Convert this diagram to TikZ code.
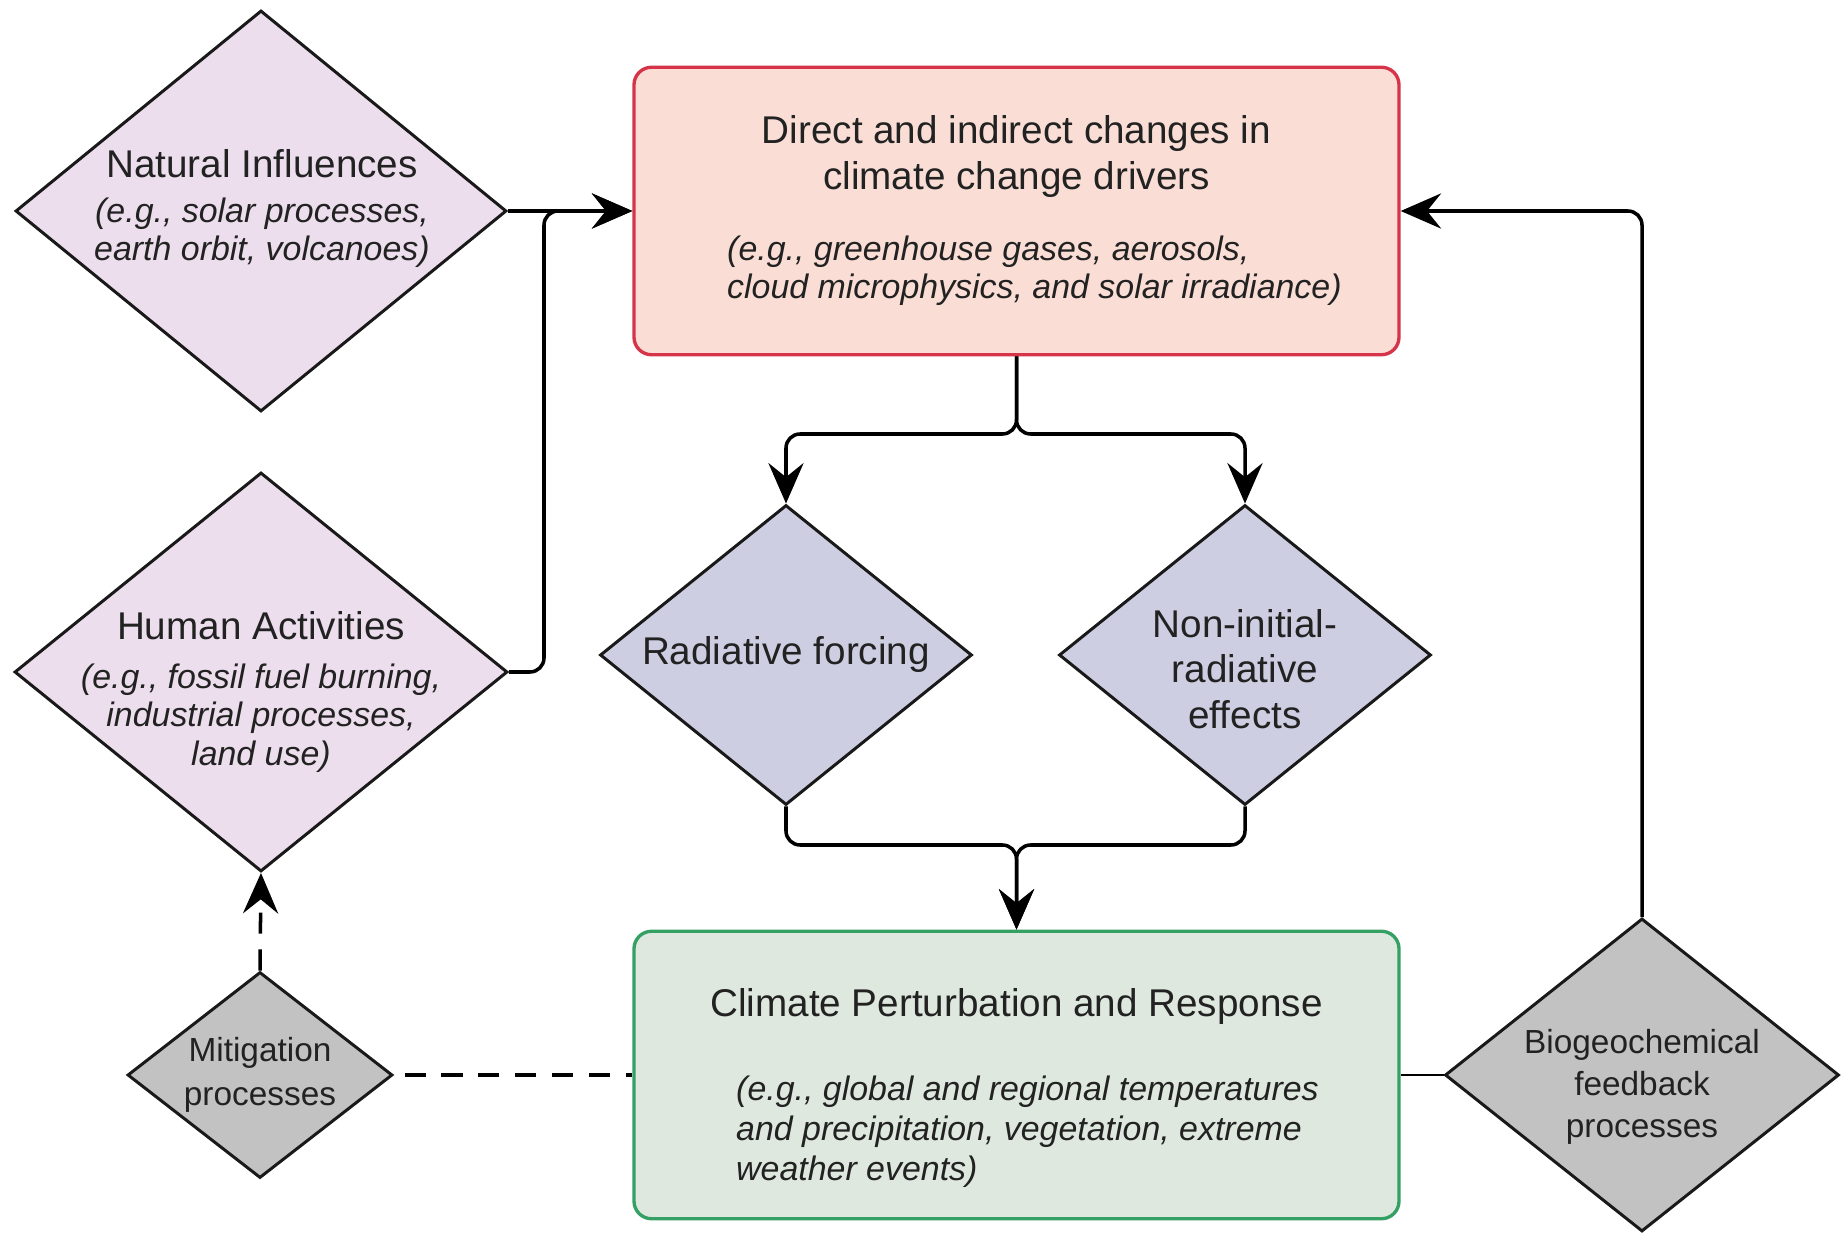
\documentclass[tikz,border=0pt]{standalone}
\usepackage{fontspec}
\setmainfont{Liberation Sans}
\usepackage{xcolor}
\usepackage{tikz}
\usetikzlibrary{arrows.meta,calc,positioning,shapes.geometric}
\definecolor{natfill}{RGB}{236,222,236}
\definecolor{radfill}{RGB}{206,206,226}
\definecolor{grayfill}{RGB}{194,194,194}
\definecolor{topfill}{RGB}{250,222,214}
\definecolor{topline}{RGB}{214,52,72}
\definecolor{resfill}{RGB}{222,232,222}
\definecolor{resline}{RGB}{52,160,100}
\definecolor{ink}{RGB}{34,34,34}

\begin{document}
\begin{tikzpicture}[>={Stealth[length=23pt,width=20pt,inset=8pt]},
  dia/.style={diamond,draw=black!90,line width=1.7pt,inner sep=0pt},
  box/.style={rectangle,rounded corners=10pt,line width=1.9pt,minimum width=15.3cm,minimum height=5.75cm},
  head/.style={align=center,text=ink,font=\fontsize{22}{26.5}\selectfont},
  note/.style={text=ink,font=\fontsize{19.3}{21.5}\selectfont\itshape},
  conn/.style={line width=2pt,rounded corners=8pt},
  dashln/.style={line width=2pt,dash pattern=on 12pt off 9pt}]
  \useasboundingbox (0,0) rectangle (36.82,-24.72);
  \node[box,draw=topline,fill=topfill] (drv) at (20.33,-4.22) {};
  \node[box,draw=resline,fill=resfill] (resp) at (20.33,-21.5) {};
  \node[dia,fill=natfill,minimum width=9.82cm,minimum height=8.02cm] (nat) at (5.22,-4.22) {};
  \node[dia,fill=natfill,minimum width=9.86cm,minimum height=7.98cm] (hum) at (5.22,-13.44) {};
  \node[dia,fill=grayfill,minimum width=5.3cm,minimum height=4.12cm] (mit) at (5.2,-21.5) {};
  \node[dia,fill=radfill,minimum width=7.44cm,minimum height=6cm] (rad) at (15.72,-13.1) {};
  \node[dia,fill=radfill,minimum width=7.44cm,minimum height=6cm] (nonrad) at (24.9,-13.1) {};
  \node[dia,fill=grayfill,minimum width=7.88cm,minimum height=6.26cm] (bio) at (32.84,-21.5) {};

  \node[head] (drvHead) at (20.33,-3.13) {Direct and indirect changes in\\climate change drivers};
  \node[note,anchor=west,align=left] (drvNote) at (14.42,-5.42) {(e.g., greenhouse gases, aerosols,\\cloud microphysics, and solar irradiance)};
  \node[head] (respHead) at (20.33,-20.14) {Climate Perturbation and Response};
  \node[note,anchor=west,align=left,font=\fontsize{19.3}{22.7}\selectfont\itshape] (respNote) at (14.6,-22.64) {(e.g., global and regional temperatures\\and precipitation, vegetation, extreme\\weather events)};
  \node[head] (natHead) at (5.24,-3.28) {Natural Influences};
  \node[note,align=center] (natNote) at (5.24,-4.65) {(e.g., solar processes,\\earth orbit, volcanoes)};
  \node[head] (humHead) at (5.22,-12.52) {Human Activities};
  \node[note,align=center,font=\fontsize{19.3}{22}\selectfont\itshape] (humNote) at (5.22,-14.36) {(e.g., fossil fuel burning,\\industrial processes,\\land use)};
  \node[head] (radHead) at (15.72,-13.1) {Radiative forcing};
  \node[head,font=\fontsize{22}{26}\selectfont] (nonHead) at (24.9,-13.38) {Non-initial-\\radiative\\effects};
  \node[head,font=\fontsize{19}{25}\selectfont] (mitHead) at (5.2,-21.5) {Mitigation\\processes};
  \node[head,font=\fontsize{19}{23.8}\selectfont] (bioHead) at (32.84,-21.74) {Biogeochemical\\feedback\\processes};

  \coordinate (hj) at (10.88,-4.22);
  \coordinate (split) at (20.33,-8.68);
  \coordinate (merge) at (20.33,-16.9);
  \draw[conn,->] (nat.east) -- (drv.west);
  \draw[conn,->] (hum.east) -| (hj) -- (drv.west);
  \draw[conn,->] (drv.south) -- (split) -| (rad.north);
  \draw[conn,->] (drv.south) -- (split) -| (nonrad.north);
  \draw[conn,->] (rad.south) |- (merge) -- (resp.north);
  \draw[conn,->] (nonrad.south) |- (merge) -- (resp.north);
  \draw[conn,->] (bio.north) |- (drv.east);
  \draw[conn,line width=1.5pt] (resp.east) -- (bio.west);
  \draw[dashln,shorten <=6pt] (mit.east) -- (resp.west);
  \draw[dashln,->] (mit.north) -- (hum.south);
\end{tikzpicture}
\end{document}
